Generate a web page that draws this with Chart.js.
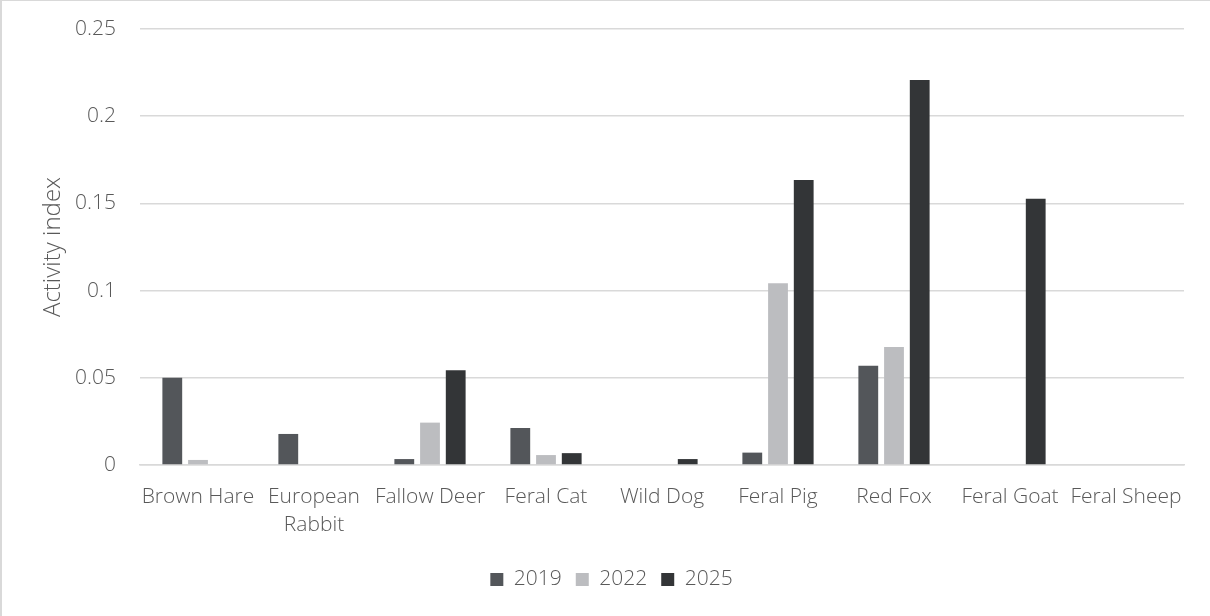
<!DOCTYPE html>
<html>
<head>
<meta charset="utf-8">
<script src="https://cdn.jsdelivr.net/npm/chart.js@4.4.1/dist/chart.umd.min.js"></script>
<style>
  html, body { margin: 0; padding: 0; background: #fff; }
  #wrap { position: relative; width: 1210px; height: 616px; box-sizing: border-box; border-top: 1px solid #d9d9d9; border-left: 2px solid #d9d9d9; }
  canvas { display: block; }
</style>
</head>
<body>
<div id="wrap"><canvas id="c" width="1208" height="615"></canvas></div>
<script>
const categories = ['Brown Hare', ['European', 'Rabbit'], 'Fallow Deer', 'Feral Cat', 'Wild Dog', 'Feral Pig', 'Red Fox', 'Feral Goat', 'Feral Sheep'];
const seriesNames = ['2019', '2022', '2025'];
const values2019 = [0.050, 0.0178, 0.0034, 0.0212, 0, 0.0071, 0.0569, 0, 0];
const values2022 = [0.0029, 0, 0.0243, 0.0057, 0, 0.1042, 0.0677, 0, 0];
const values2025 = [0, 0, 0.0543, 0.0068, 0.0034, 0.1634, 0.2208, 0.1527, 0];
const yTicks = [0, 0.05, 0.1, 0.15, 0.2, 0.25];
const colors = ['#53565a', '#bcbdc0', '#333537'];

const FONT = { family: "'Open Sans', sans-serif", size: 21, weight: 300 };
const XFONT = { family: "'Open Sans', sans-serif", size: 21, weight: 300, lineHeight: 1.32 };
const TITLE_FONT = { family: "'Open Sans', sans-serif", size: 24, weight: 300 };
const TXT = '#595959';

new Chart(document.getElementById('c'), {
  type: 'bar',
  data: {
    labels: categories,
    datasets: [values2019, values2022, values2025].map((d, i) => ({
      label: seriesNames[i],
      data: d,
      backgroundColor: colors[i],
      borderWidth: 0,
      categoryPercentage: 0.665,
      barPercentage: 0.77
    }))
  },
  options: {
    responsive: false,
    animation: false,
    layout: { padding: { top: 28, right: 26, bottom: 16, left: 37 } },
    plugins: {
      tooltip: { enabled: false },
      legend: {
        position: 'bottom',
        labels: { color: TXT, font: FONT, boxWidth: 13, boxHeight: 13, padding: 14 }
      }
    },
    scales: {
      x: {
        grid: { display: false, drawTicks: false },
        border: { color: '#d9d9d9', width: 1.5 },
        ticks: { color: TXT, font: XFONT, padding: 18, maxRotation: 0, autoSkip: false },
        afterFit: s => { s.height = 90; }
      },
      y: {
        min: 0, max: 0.25,
        afterBuildTicks: s => { s.ticks = yTicks.map(v => ({ value: v })); },
        grid: { color: '#d9d9d9', lineWidth: 1.5, drawTicks: false },
        border: { display: false },
        ticks: { color: TXT, font: FONT, padding: 24, callback: v => String(+v.toFixed(2)) },
        title: { display: true, text: 'Activity index', color: TXT, font: TITLE_FONT, padding: { top: 0, bottom: 4 } },
        afterFit: s => { s.width = 101; s.paddingTop = 0; s.paddingBottom = 0; }
      }
    }
  }
});
</script>
</body>
</html>
